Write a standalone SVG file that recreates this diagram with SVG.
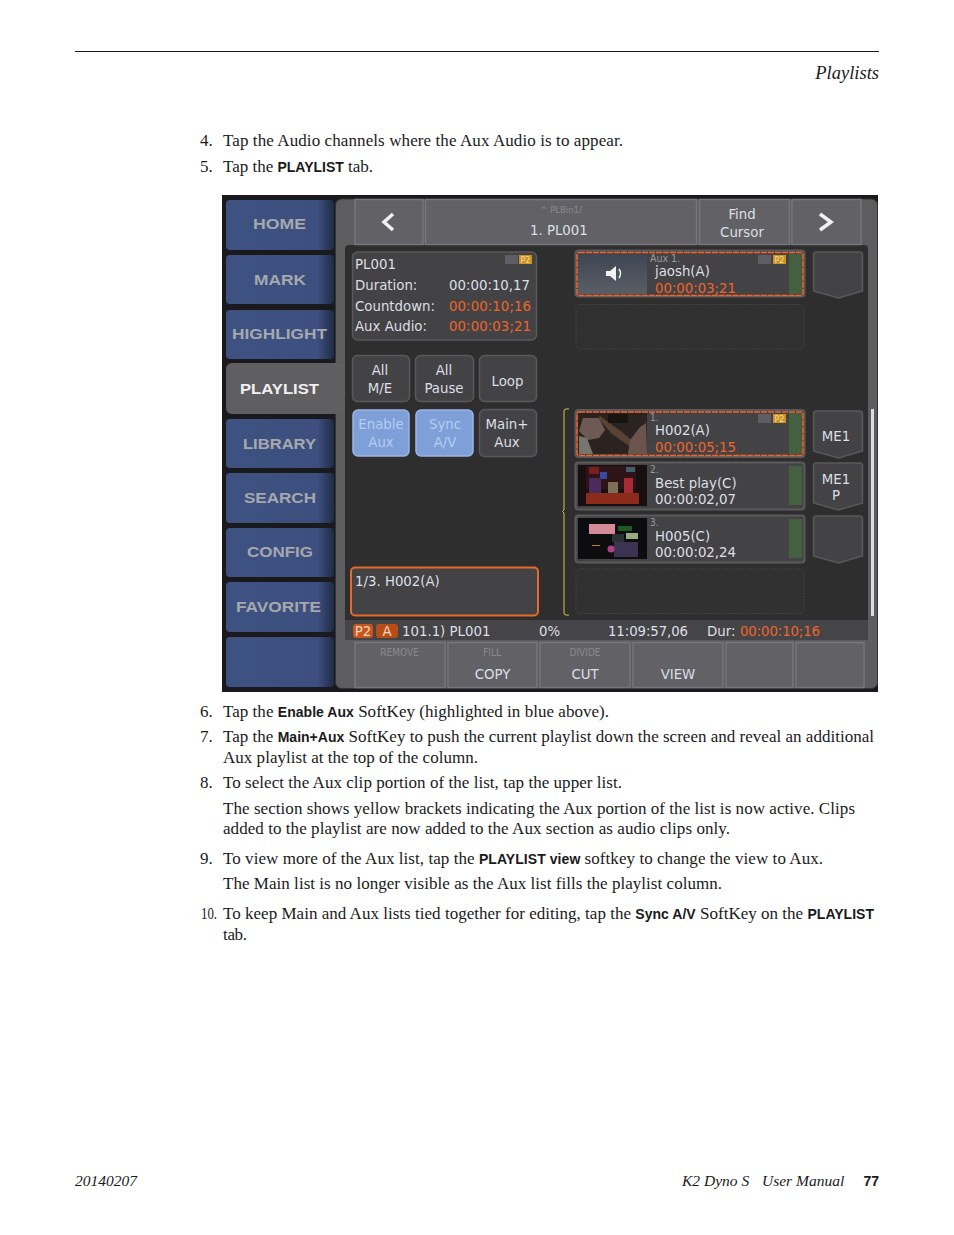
<svg xmlns="http://www.w3.org/2000/svg" width="954" height="1235" viewBox="0 0 954 1235">
<style>
.b{font-family:"Liberation Serif",serif;font-size:17px;fill:#1a1a1a}
.i{font-family:"Liberation Serif",serif;font-style:italic;fill:#1a1a1a}
.k{font-family:"Liberation Sans",sans-serif;font-size:14px;font-weight:700;fill:#1a1a1a}
.nav{fill:url(#navg)}
.nt{font-family:"Liberation Sans",sans-serif;font-size:14.500px;font-weight:700;fill:#a5a8ad;text-anchor:middle}
.u{font-family:"DejaVu Sans Condensed","DejaVu Sans",sans-serif;font-size:14.800px;fill:#dcdfe6}
.m{text-anchor:middle}
.o{fill:#f0642a}
.g{fill:#9a9a9c;font-size:10px}
.top{fill:#626266;stroke:#77777b;stroke-width:1.500}
.btn{fill:#434345;stroke:#59595b;stroke-width:1.500}
.blue{fill:#7f9fd8;stroke:#9ab6e6;stroke-width:1.500}
.bt{fill:#b4cdf2}
.clip{fill:#434345;stroke:#5a5a5c;stroke-width:2}
.dash{fill:none;stroke:#f4642a;stroke-width:1.500;stroke-dasharray:6 1}
.empty{fill:#303030;stroke:#494949;stroke-width:1;stroke-dasharray:1.500 1.500}
.bar{fill:#456040}
.p2{fill:#cf9320}
.gr{fill:#5e5e64}
.p2t{font-family:"DejaVu Sans",sans-serif;font-size:8px;fill:#ecdcae;text-anchor:middle}
</style>
<defs>
<linearGradient id="navg" x1="0" y1="0" x2="1" y2="0"><stop offset="0" stop-color="#3e5282"/><stop offset="0.85" stop-color="#3c4f7e"/><stop offset="1" stop-color="#1f2a44"/></linearGradient>
<linearGradient id="audg" x1="0" y1="0" x2="0" y2="1"><stop offset="0" stop-color="#3e4654"/><stop offset="1" stop-color="#5a5f66"/></linearGradient>
</defs>
<rect width="954" height="1235" fill="#fff"/>
<line x1="75" y1="51.500" x2="879" y2="51.500" stroke="#1a1a1a" stroke-width="1"/>
<text class="i" x="879" y="79" text-anchor="end" style="font-size:18.500px">Playlists</text>
<g id="steps-top">
<text class="b" x="200" y="146">4.</text><text class="b" x="223" y="146" textLength="400">Tap the Audio channels where the Aux Audio is to appear.</text>
<text class="b" x="200" y="172">5.</text><text class="b" x="223" y="172" textLength="150">Tap the <tspan class="k">PLAYLIST</tspan> tab.</text>
</g>
<g id="screenshot">
<rect x="222" y="195" width="656" height="497" fill="#19191e"/>
<g id="nav">
<rect class="nav" x="226" y="200" width="108" height="50" rx="4"/><text class="nt" x="279.500" y="229" textLength="53" lengthAdjust="spacingAndGlyphs">HOME</text>
<rect class="nav" x="226" y="255" width="108" height="49" rx="4"/><text class="nt" x="280" y="284.500" textLength="52" lengthAdjust="spacingAndGlyphs">MARK</text>
<rect class="nav" x="226" y="310" width="108" height="49" rx="4"/><text class="nt" x="279.500" y="339" textLength="95" lengthAdjust="spacingAndGlyphs">HIGHLIGHT</text>
<rect class="nav" x="226" y="419" width="108" height="49" rx="4"/><text class="nt" x="279.500" y="448.500" textLength="73" lengthAdjust="spacingAndGlyphs">LIBRARY</text>
<rect class="nav" x="226" y="473" width="108" height="50" rx="4"/><text class="nt" x="280" y="502.500" textLength="72" lengthAdjust="spacingAndGlyphs">SEARCH</text>
<rect class="nav" x="226" y="528" width="108" height="49" rx="4"/><text class="nt" x="280" y="557" textLength="66" lengthAdjust="spacingAndGlyphs">CONFIG</text>
<rect class="nav" x="226" y="582" width="108" height="50" rx="4"/><text class="nt" x="278.500" y="611.500" textLength="85" lengthAdjust="spacingAndGlyphs">FAVORITE</text>
<rect class="nav" x="226" y="637" width="108" height="50" rx="4"/>
</g>
<rect x="335.500" y="199" width="542" height="489.500" rx="6" fill="#5d5d60" stroke="#333338"/>
<g id="playlist-tab"><rect x="226" y="363" width="120" height="51" rx="6" fill="#5f5f62"/><text class="nt" x="279.500" y="393.500" style="fill:#f0f0f0" textLength="79" lengthAdjust="spacingAndGlyphs">PLAYLIST</text></g>
<rect x="345" y="245" width="523" height="395" rx="4" fill="#2e2e2e"/>
<g id="top-row">
<rect class="top" x="355" y="199.500" width="68" height="45"/>
<path d="M393 214l-9 8 9 8" fill="none" stroke="#f0f0f0" stroke-width="3.500"/>
<rect class="top" x="425.500" y="199.500" width="271" height="45"/>
<text class="u m g" x="561" y="213" style="fill:#8a8a8e;font-size:9.500px">^ PLBin1/</text>
<text class="u" x="530" y="235">1. PL001</text>
<rect class="top" x="699.500" y="199.500" width="90" height="45"/>
<text class="u m" x="742" y="219">Find</text><text class="u m" x="742" y="237">Cursor</text>
<rect class="top" x="792" y="199.500" width="69" height="45"/>
<path d="M820 214l11 8-11 8" fill="none" stroke="#f0f0f0" stroke-width="3.500"/>
</g>
<g id="info">
<rect class="btn" x="352.500" y="252" width="184" height="88" rx="5"/>
<rect class="gr" x="505" y="255" width="13" height="9"/><rect class="p2" x="519" y="255" width="13" height="9"/><text class="p2t" x="525.500" y="263">P2</text>
<text class="u" x="355" y="269">PL001</text>
<text class="u" x="355" y="290">Duration:</text><text class="u" x="449" y="290" textLength="81">00:00:10,17</text>
<text class="u" x="355" y="311">Countdown:</text><text class="u o" x="449" y="311" textLength="82">00:00:10;16</text>
<text class="u" x="355" y="331">Aux Audio:</text><text class="u o" x="449" y="331" textLength="82">00:00:03;21</text>
</g>
<g id="buttons">
<rect class="btn" x="352.500" y="355.500" width="57" height="46" rx="5"/><text class="u m" x="380" y="375">All</text><text class="u m" x="380" y="393">M/E</text>
<rect class="btn" x="415.500" y="355.500" width="58" height="46" rx="5"/><text class="u m" x="444" y="375">All</text><text class="u m" x="444" y="393">Pause</text>
<rect class="btn" x="479.500" y="355.500" width="57" height="46" rx="5"/><text class="u m" x="507.500" y="386">Loop</text>
<rect class="blue" x="353" y="410" width="56" height="46" rx="5"/><text class="u m bt" x="381" y="429">Enable</text><text class="u m bt" x="381" y="447">Aux</text>
<rect class="blue" x="416" y="410" width="57" height="46" rx="5"/><text class="u m bt" x="445" y="429">Sync</text><text class="u m bt" x="445" y="447">A/V</text>
<rect class="btn" x="479.500" y="409.500" width="57" height="47" rx="5"/><text class="u m" x="507" y="429">Main+</text><text class="u m" x="507" y="447">Aux</text>
</g>
<g id="aux-clip">
<rect class="clip" x="575.500" y="250.500" width="229" height="46" rx="3"/>
<rect x="578" y="254" width="69" height="40" fill="url(#audg)"/>
<path d="M606 271h4l6-5v15l-6-5h-4z" fill="#f2f2f2"/><path d="M619 269q3 4.500 0 9" fill="none" stroke="#f2f2f2" stroke-width="1.500"/>
<rect class="bar" x="789" y="254" width="13" height="40"/>
<rect class="dash" x="577" y="252.500" width="226" height="43" rx="2"/>
<rect class="gr" x="758" y="255" width="13" height="9"/><rect class="p2" x="773" y="255" width="13" height="9"/><text class="p2t" x="779.500" y="263">P2</text>
<text class="u g" x="650" y="262" style="font-size:10.500px">Aux 1.</text>
<text class="u" x="655" y="276">jaosh(A)</text><text class="u o" x="655" y="293" textLength="81">00:00:03;21</text>
</g>
<rect class="empty" x="576" y="304.500" width="228" height="44.500" rx="4"/>
<g id="clip-1">
<rect class="clip" x="575.500" y="410" width="229" height="47" rx="3"/>
<rect x="578" y="413" width="69" height="41" fill="#2a2320"/>
<path d="M579 431l4-13h16l6 12-6 8-11 2z" fill="#6e5a54"/><path d="M579 454v-18l8 2 6 16z" fill="#77756f"/><path d="M600 416l22 16 14 12-4 4-20-14-14-16z" fill="#574234"/><path d="M628 454l2-14 10-13 6-4 1 31z" fill="#6a544d"/><rect x="608" y="414" width="20" height="9" fill="#171412"/>
<rect class="bar" x="789" y="413" width="13" height="41"/>
<rect class="dash" x="577" y="412" width="226" height="43.500" rx="2"/>
<rect class="gr" x="758" y="414" width="13" height="9"/><rect class="p2" x="773" y="414" width="13" height="9"/><text class="p2t" x="779.500" y="422">P2</text>
<text class="u g" x="650" y="421">1.</text>
<text class="u" x="655" y="435">H002(A)</text><text class="u o" x="655" y="452" textLength="81">00:00:05;15</text>
</g>
<g id="clip-2">
<rect class="clip" x="575.500" y="462.500" width="229" height="47" rx="3"/>
<rect x="578" y="465" width="69" height="41" fill="#17100f"/>
<rect x="586" y="466" width="50" height="23" fill="#2e1418"/><rect x="586" y="493" width="53" height="11" fill="#8c2b1c"/><rect x="589" y="467" width="10" height="7" fill="#7a1f1c"/><rect x="600" y="472" width="7" height="7" fill="#3a4aa0"/><rect x="589" y="478" width="12" height="15" fill="#4c2a5c"/><rect x="608" y="482" width="10" height="11" fill="#7d7058"/><rect x="624" y="478" width="9" height="15" fill="#a82c34"/><rect x="626" y="467" width="9" height="5" fill="#3e6066"/>
<rect class="bar" x="789" y="466" width="13" height="39"/>
<text class="u g" x="650" y="473">2.</text>
<text class="u" x="655" y="488">Best play(C)</text><text class="u" x="655" y="504" textLength="81">00:00:02,07</text>
</g>
<g id="clip-3">
<rect class="clip" x="575.500" y="515.500" width="229" height="47" rx="3"/>
<rect x="578" y="518" width="69" height="41" fill="#0d0d10"/>
<rect x="589" y="524" width="26" height="10" fill="#d58a98"/><rect x="618" y="526" width="14" height="5" fill="#1e5a26"/><rect x="626" y="533" width="12" height="6" fill="#98ac84"/><rect x="612" y="534" width="12" height="8" fill="#2c3234"/><rect x="614" y="542" width="24" height="15" fill="#3a3450"/><circle cx="611" cy="549" r="3.500" fill="#b0408a"/><rect x="592" y="545" width="8" height="1" fill="#c08020"/>
<rect class="bar" x="789" y="519" width="13" height="39"/>
<text class="u g" x="650" y="526">3.</text>
<text class="u" x="655" y="541">H005(C)</text><text class="u" x="655" y="557" textLength="81">00:00:02,24</text>
</g>
<rect class="empty" x="576" y="569" width="228" height="44.500" rx="4"/>
<g id="side-buttons">
<path class="btn" d="M813.500 255q0-3 3-3h43q3 0 3 3v36l-24 7-25-7z"/>
<path class="btn" d="M813.500 414q0-3 3-3h43q3 0 3 3v37l-24 7-25-7z"/><text class="u m" x="836" y="441">ME1</text>
<path class="btn" d="M813.500 466q0-3 3-3h43q3 0 3 3v37l-24 7-25-7z"/><text class="u m" x="836" y="484">ME1</text><text class="u m" x="836" y="500">P</text>
<path class="btn" d="M813.500 519q0-3 3-3h43q3 0 3 3v37l-24 7-25-7z"/>
</g>
<path id="bracket" d="M569 409h-3q-2 0-2 2v99l-1.500 1.500 1.500 1.500v100q0 2 2 2h3" fill="none" stroke="#cdc64a" stroke-width="1"/>
<rect x="871" y="409" width="3" height="207" fill="#dcdcdc"/>
<g id="selected"><rect x="351" y="567.500" width="187" height="48" rx="4" fill="#434345" stroke="#e8692c" stroke-width="2"/><text class="u" x="355" y="586">1/3. H002(A)</text></g>
<g id="status">
<rect x="345" y="620" width="523" height="20" fill="#454547"/>
<rect x="353" y="624" width="20" height="14" rx="3" fill="#c8551f"/><text class="u m" x="363" y="636" style="fill:#f2d8c0">P2</text>
<rect x="376" y="624" width="22" height="14" rx="3" fill="#b84d18"/><text class="u m" x="387" y="636" style="fill:#f2d8c0">A</text>
<text class="u" x="402" y="636">101.1) PL001</text><text class="u" x="539" y="636">0%</text><text class="u" x="608" y="636" textLength="80">11:09:57,06</text><text class="u" x="707" y="636">Dur:</text><text class="u o" x="740" y="636" textLength="80">00:00:10;16</text>
</g>
<g id="softkeys">
<rect class="top" x="355" y="642.500" width="90" height="45"/><text class="u m g" x="399.500" y="656" style="fill:#8a8a8e">REMOVE</text>
<rect class="top" x="448" y="642.500" width="89" height="45"/><text class="u m g" x="492" y="656" style="fill:#8a8a8e">FILL</text><text class="u m" x="492.500" y="679">COPY</text>
<rect class="top" x="540" y="642.500" width="90" height="45"/><text class="u m g" x="585" y="656" style="fill:#8a8a8e">DIVIDE</text><text class="u m" x="585" y="679">CUT</text>
<rect class="top" x="633" y="642.500" width="90" height="45"/><text class="u m" x="678" y="679">VIEW</text>
<rect class="top" x="726" y="642.500" width="67" height="45"/>
<rect class="top" x="796" y="642.500" width="68" height="45"/>
</g>
</g>
<g id="steps-bottom">
<text class="b" x="200" y="717">6.</text><text class="b" x="223" y="717" textLength="386">Tap the <tspan class="k">Enable Aux</tspan> SoftKey (highlighted in blue above).</text>
<text class="b" x="200" y="742">7.</text><text class="b" x="223" y="742" textLength="651">Tap the <tspan class="k">Main+Aux</tspan> SoftKey to push the current playlist down the screen and reveal an additional</text>
<text class="b" x="223" y="763" textLength="255">Aux playlist at the top of the column.</text>
<text class="b" x="200" y="788">8.</text><text class="b" x="223" y="788" textLength="399">To select the Aux clip portion of the list, tap the upper list.</text>
<text class="b" x="223" y="814" textLength="632">The section shows yellow brackets indicating the Aux portion of the list is now active. Clips</text>
<text class="b" x="223" y="834" textLength="507">added to the playlist are now added to the Aux section as audio clips only.</text>
<text class="b" x="200" y="864">9.</text><text class="b" x="223" y="864" textLength="600">To view more of the Aux list, tap the <tspan class="k">PLAYLIST view</tspan> softkey to change the view to Aux.</text>
<text class="b" x="223" y="889" textLength="499">The Main list is no longer visible as the Aux list fills the playlist column.</text>
<text class="b" x="201" y="919" textLength="16" lengthAdjust="spacingAndGlyphs">10.</text><text class="b" x="223" y="919" textLength="651">To keep Main and Aux lists tied together for editing, tap the <tspan class="k">Sync A/V</tspan> SoftKey on the <tspan class="k">PLAYLIST</tspan></text>
<text class="b" x="223" y="940" textLength="24">tab.</text>
</g>
<g id="footer">
<text class="i" x="75" y="1186" style="font-size:15.500px">20140207</text>
<text class="i" x="682" y="1186" style="font-size:15.500px">K2 Dyno S</text>
<text class="i" x="762" y="1186" style="font-size:15.500px">User Manual</text>
<text class="k" x="879" y="1186" text-anchor="end">77</text>
</g>
</svg>
